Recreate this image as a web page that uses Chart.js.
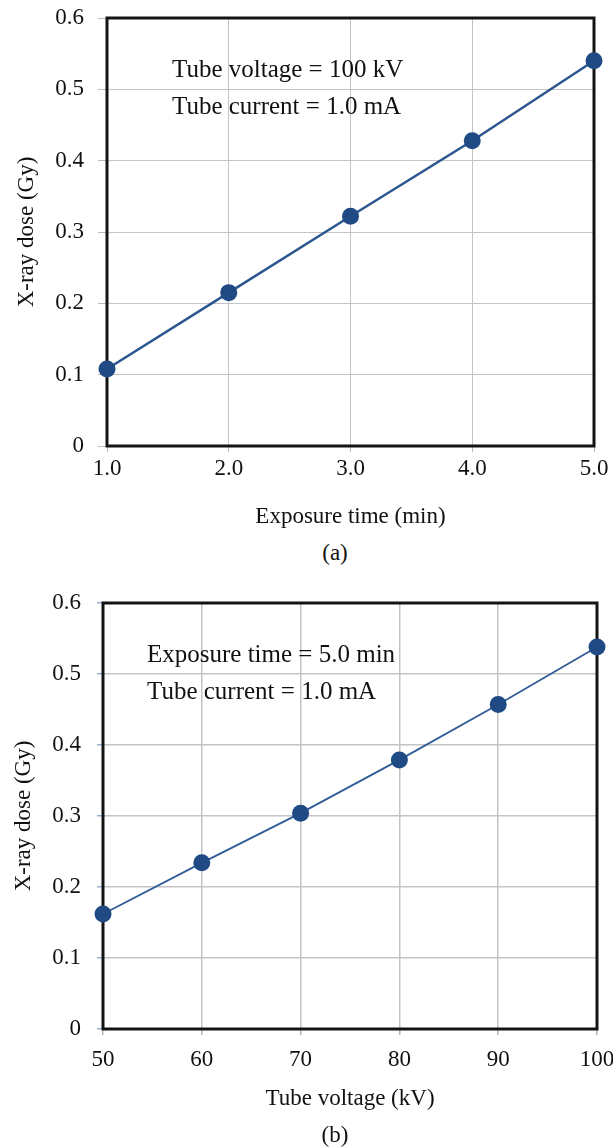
<!DOCTYPE html>
<html>
<head>
<meta charset="utf-8">
<script src="https://cdn.jsdelivr.net/npm/chart.js@4.4.1/dist/chart.umd.min.js"></script>
<style>
  html, body { margin: 0; padding: 0; background: #ffffff; }
  body { width: 613px; height: 1148px; position: relative; overflow: hidden; }
  canvas { position: absolute; left: 0; }
  #ca { top: 0; }
  #cb { top: 585px; }
  .cap { position: absolute; width: 100px; text-align: center; font-family: "Liberation Serif", "Times New Roman", serif; font-size: 23px; color: #111; line-height: 1; }
  #capA { left: 285px; top: 541px; }
  #capB { left: 285px; top: 1123px; }
</style>
</head>
<body>
<canvas id="ca" width="613" height="540"></canvas>
<canvas id="cb" width="613" height="540"></canvas>
<div class="cap" id="capA">(a)</div>
<div class="cap" id="capB">(b)</div>
<script>
// ---- Data ----
const exposureTime = [1.0, 2.0, 3.0, 4.0, 5.0];
const doseVsTime = [0.108, 0.215, 0.322, 0.428, 0.540];
const xTickValuesA = [1, 2, 3, 4, 5];
const xTickLabelsA = ['1.0', '2.0', '3.0', '4.0', '5.0'];

const tubeVoltage = [50, 60, 70, 80, 90, 100];
const doseVsVoltage = [0.162, 0.234, 0.304, 0.379, 0.457, 0.538];
const xTickValuesB = [50, 60, 70, 80, 90, 100];
const xTickLabelsB = ['50', '60', '70', '80', '90', '100'];

const yTickValues = [0, 0.1, 0.2, 0.3, 0.4, 0.5, 0.6];
const yTickLabels = ['0', '0.1', '0.2', '0.3', '0.4', '0.5', '0.6'];

const notesA = ['Tube voltage = 100 kV', 'Tube current = 1.0 mA'];
const notesB = ['Exposure time = 5.0 min', 'Tube current = 1.0 mA'];

const FONT = '"Liberation Serif", "Times New Roman", serif';

const boxPlugin = {
  id: 'plotBox',
  beforeDatasetsDraw(chart, args, opts) {
    const a = chart.chartArea, ctx = chart.ctx;
    ctx.save();
    ctx.strokeStyle = opts.color;
    ctx.lineWidth = opts.width;
    ctx.strokeRect(a.left, a.top, a.right - a.left, a.bottom - a.top);
    ctx.restore();
  }
};

const notePlugin = {
  id: 'notes',
  afterDatasetsDraw(chart, args, opts) {
    const a = chart.chartArea, ctx = chart.ctx;
    ctx.save();
    ctx.font = opts.size + 'px ' + FONT;
    ctx.fillStyle = '#111';
    ctx.textBaseline = 'alphabetic';
    ctx.textAlign = 'left';
    opts.lines.forEach((t, i) => {
      ctx.fillText(t, a.left + opts.dx, a.top + opts.dy + i * opts.gap);
    });
    ctx.restore();
  }
};

function makeChart(id, xs, ys, xVals, xLabels, xMin, xMax, xTitle, notes, cfg) {
  const pts = xs.map((x, i) => ({ x: x, y: ys[i] }));
  return new Chart(document.getElementById(id), {
    type: 'line',
    data: {
      datasets: [{
        data: pts,
        borderColor: cfg.lineColor,
        borderWidth: cfg.lineWidth,
        backgroundColor: '#1f4a84',
        pointBackgroundColor: '#1f4a84',
        pointBorderColor: '#1f4a84',
        pointRadius: cfg.pointRadius,
        pointBorderWidth: 0,
        tension: 0,
        clip: false
      }]
    },
    plugins: [boxPlugin, notePlugin],
    options: {
      responsive: false,
      animation: false,
      devicePixelRatio: 1,
      layout: { autoPadding: false, padding: { top: 18, right: cfg.padRight, left: 0, bottom: 0 } },
      plugins: {
        legend: { display: false },
        tooltip: { enabled: false },
        plotBox: { color: '#141414', width: 3 },
        notes: { lines: notes, size: 25, dx: cfg.noteDx, dy: 59, gap: 37 }
      },
      scales: {
        x: {
          type: 'linear',
          min: xMin,
          max: xMax,
          afterBuildTicks(s) { s.ticks = xVals.map(v => ({ value: v })); },
          afterFit(s) { s.height = cfg.xHeight; s.paddingLeft = 0; s.paddingRight = 0; },
          ticks: {
            callback(v, i) { return xLabels[i]; },
            font: { family: FONT, size: 23 },
            color: '#111',
            padding: cfg.xPad,
            maxRotation: 0,
            autoSkip: false
          },
          grid: { color: '#c4c4c4', lineWidth: cfg.gridWidth, tickLength: 6, tickColor: '#b8b8b8' },
          border: { display: false },
          title: {
            display: true,
            text: xTitle,
            font: { family: FONT, size: 23 },
            color: '#111',
            padding: { top: 0, bottom: cfg.xTitlePad }
          }
        },
        y: {
          type: 'linear',
          min: 0,
          max: 0.6,
          afterBuildTicks(s) { s.ticks = yTickValues.map(v => ({ value: v })); },
          afterFit(s) { s.width = cfg.yWidth; s.paddingTop = 0; s.paddingBottom = 0; },
          ticks: {
            callback(v, i) { return yTickLabels[i]; },
            font: { family: FONT, size: 23 },
            color: '#111',
            padding: cfg.yPad,
            autoSkip: false
          },
          grid: { color: '#c4c4c4', lineWidth: cfg.gridWidth, tickLength: cfg.yTickLen, tickColor: cfg.yTickColor },
          border: { display: false },
          title: {
            display: true,
            text: 'X-ray dose (Gy)',
            font: { family: FONT, size: 23 },
            color: '#111',
            padding: { top: cfg.yTitlePad, bottom: 0 }
          }
        }
      }
    }
  });
}

makeChart('ca', exposureTime, doseVsTime, xTickValuesA, xTickLabelsA, 1, 5, 'Exposure time (min)', notesA, {
  lineColor: '#2c5690', lineWidth: 2.5, pointRadius: 8.5, padRight: 19, xHeight: 94, yWidth: 107,
  yPad: 14, yTickLen: 9, yTickColor: '#bcbcbc', yTitlePad: 13, gridWidth: 1, noteDx: 65,
  xPad: 3, xTitlePad: 9
});
makeChart('cb', tubeVoltage, doseVsVoltage, xTickValuesB, xTickLabelsB, 50, 100, 'Tube voltage (kV)', notesB, {
  lineColor: '#2f5c96', lineWidth: 1.8, pointRadius: 8.5, padRight: 16, xHeight: 96, yWidth: 103,
  yPad: 16, yTickLen: 6, yTickColor: '#98b0d2', yTitlePad: 10, gridWidth: 1.5, noteDx: 44,
  xPad: 11, xTitlePad: 12
});
</script>
</body>
</html>
